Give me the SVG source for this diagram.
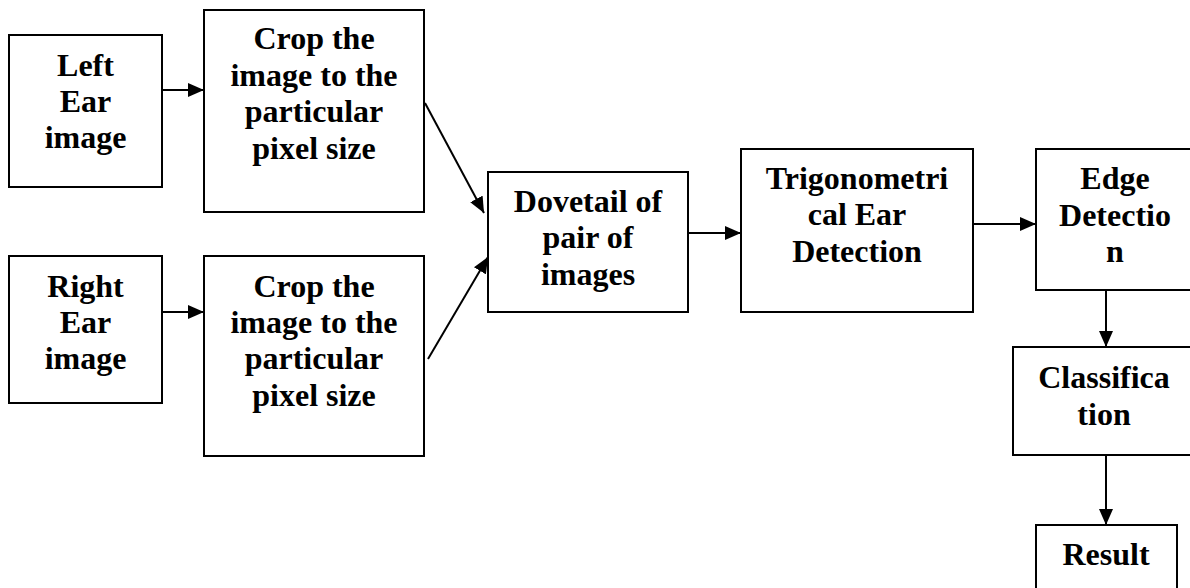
<svg xmlns="http://www.w3.org/2000/svg" width="1190" height="588" viewBox="0 0 1190 588">
<style>
.box{fill:#fff;stroke:#000;stroke-width:2}
.t{font-family:"Liberation Serif","Times New Roman",serif;font-weight:bold;font-size:32px;text-anchor:middle;fill:#000}
.c{stroke:#000;stroke-width:2;fill:none;marker-end:url(#ah)}
</style>
<defs>
<marker id="ah" markerWidth="16" markerHeight="14" refX="16" refY="7" orient="auto" markerUnits="userSpaceOnUse">
<path d="M0,0 L16,7 L0,14 Z" fill="#000"/>
</marker>
</defs>
<rect width="1190" height="588" fill="#fff"/>
<g id="connectors">
<line class="c" x1="162" y1="90" x2="204" y2="90"/>
<line class="c" x1="162" y1="312" x2="204" y2="312"/>
<line class="c" x1="425" y1="103" x2="484" y2="213"/>
<line class="c" x1="428" y1="359" x2="488" y2="257"/>
<line class="c" x1="688" y1="233" x2="741" y2="233"/>
<line class="c" x1="973" y1="224" x2="1036" y2="224"/>
<line class="c" x1="1106" y1="290" x2="1106" y2="347"/>
<line class="c" x1="1106" y1="455" x2="1106" y2="525"/>
</g>
<g id="left-ear">
<rect class="box" x="9" y="35" width="153" height="152"/>
<text class="t" x="85.5" y="76">Left</text>
<text class="t" x="85.5" y="112">Ear</text>
<text class="t" x="85.5" y="148">image</text>
</g>
<g id="crop-top">
<rect class="box" x="204" y="10" width="220" height="202"/>
<text class="t" x="314" y="49">Crop the</text>
<text class="t" x="314" y="86">image to the</text>
<text class="t" x="314" y="122">particular</text>
<text class="t" x="314" y="159">pixel size</text>
</g>
<g id="right-ear">
<rect class="box" x="9" y="256" width="153" height="147"/>
<text class="t" x="85.5" y="297">Right</text>
<text class="t" x="85.5" y="333">Ear</text>
<text class="t" x="85.5" y="369">image</text>
</g>
<g id="crop-bottom">
<rect class="box" x="204" y="256" width="220" height="200"/>
<text class="t" x="314" y="297">Crop the</text>
<text class="t" x="314" y="333">image to the</text>
<text class="t" x="314" y="369">particular</text>
<text class="t" x="314" y="406">pixel size</text>
</g>
<g id="dovetail">
<rect class="box" x="488" y="172" width="200" height="140"/>
<text class="t" x="588" y="212">Dovetail of</text>
<text class="t" x="588" y="248">pair of</text>
<text class="t" x="588" y="285">images</text>
</g>
<g id="trig">
<rect class="box" x="741" y="149" width="232" height="163"/>
<text class="t" x="857" y="189">Trigonometri</text>
<text class="t" x="857" y="225">cal Ear</text>
<text class="t" x="857" y="262">Detection</text>
</g>
<g id="edge">
<rect class="box" x="1036" y="149" width="158" height="141"/>
<text class="t" x="1115" y="189">Edge</text>
<text class="t" x="1115" y="226">Detectio</text>
<text class="t" x="1115" y="262">n</text>
</g>
<g id="classification">
<rect class="box" x="1013" y="347" width="182" height="108"/>
<text class="t" x="1104" y="388">Classifica</text>
<text class="t" x="1104" y="425">tion</text>
</g>
<g id="result">
<rect class="box" x="1036" y="525" width="141" height="70"/>
<text class="t" x="1106" y="565">Result</text>
</g>
</svg>
